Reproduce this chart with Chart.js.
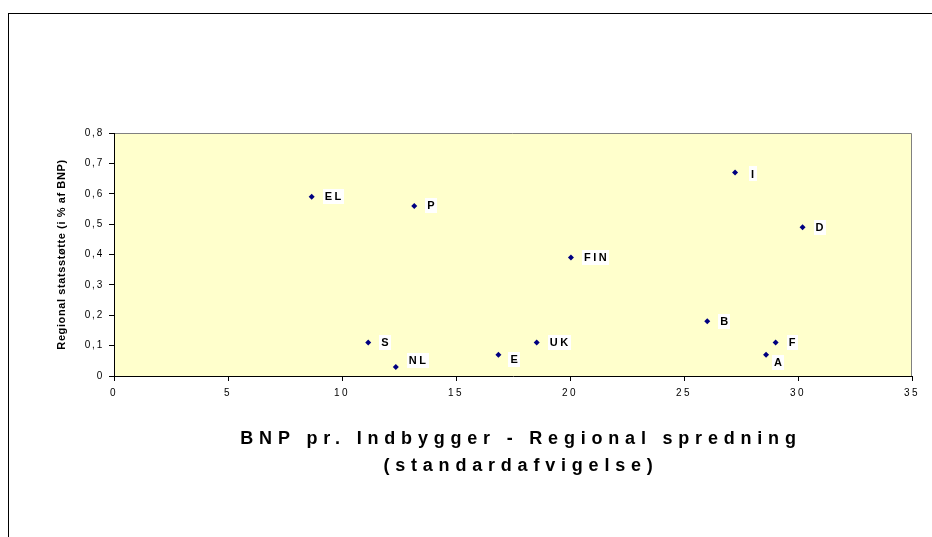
<!DOCTYPE html>
<html><head><meta charset="utf-8">
<script src="https://cdn.jsdelivr.net/npm/chart.js@4/dist/chart.umd.min.js"></script>
<style>
html,body{margin:0;padding:0;background:#fff;}
#wrap{position:relative;width:932px;height:537px;overflow:hidden;}
#frame{position:absolute;left:8px;top:13px;width:960px;height:560px;border-top:1px solid #000;border-left:1px solid #000;}
canvas{position:absolute;left:0;top:0;}
</style></head><body>
<div id="wrap"><div id="frame"></div><canvas id="c" width="932" height="537"></canvas></div>
<script>
const countries = ['EL','P','FIN','S','NL','E','UK','I','D','B','F','A'];
const gdpSpread = [8.67,13.17,20.04,11.15,12.36,16.86,18.54,27.24,30.2,26.02,29.02,28.6];
const regionalAid = [0.59,0.56,0.39,0.11,0.03,0.07,0.11,0.67,0.49,0.18,0.11,0.07];
const xTickLabels = ['0','5','10','15','20','25','30','35'];
const yTickLabels = ['0','0,1','0,2','0,3','0,4','0,5','0,6','0,7','0,8'];
const xTitle = ['BNP pr. Indbygger - Regional spredning','(standardafvigelse)'];
const yTitle = 'Regional statsstøtte (i % af BNP)';

const FONT = '"Liberation Sans", Arial, sans-serif';
const points = countries.map((c,i)=>({x:gdpSpread[i], y:regionalAid[i]}));

const spacing = {x:{ticks:'2.5px', title:'5.8px', shift:8}, y:{ticks:'1.8px', title:'0.6px', shift:0}};
const labelShift = {NL:[11,-6], E:[10,5], A:[6,8], I:[14,1.5]};

const decor = {
  id:'decor',
  beforeDraw(chart){
    const {ctx, chartArea:a} = chart;
    ctx.save();
    ctx.fillStyle = '#FFFFCC';
    ctx.fillRect(a.left, a.top, a.right-a.left, a.bottom-a.top);
    ctx.strokeStyle = '#808080';
    ctx.lineWidth = 1;
    ctx.beginPath();
    ctx.moveTo(a.left, a.top+0.5);
    ctx.lineTo(a.right-0.5, a.top+0.5);
    ctx.lineTo(a.right-0.5, a.bottom);
    ctx.stroke();
    ctx.restore();
    for (const id of ['x','y']) {
      const s = chart.scales[id];
      if (!s || s.__wrapped) continue;
      s.__wrapped = true;
      const dl = s.drawLabels.bind(s), dt = s.drawTitle.bind(s);
      s.drawLabels = function(area){ ctx.save(); ctx.letterSpacing = spacing[id].ticks; dl(area); ctx.restore(); };
      s.drawTitle = function(){ ctx.save(); ctx.translate(spacing[id].shift,0); ctx.letterSpacing = spacing[id].title; dt(); ctx.restore(); };
    }
  },
  afterDatasetsDraw(chart){
    const ctx = chart.ctx;
    const meta = chart.getDatasetMeta(0);
    ctx.save();
    ctx.font = 'bold 11px ' + FONT;
    ctx.letterSpacing = '2.5px';
    ctx.textBaseline = 'middle';
    ctx.textAlign = 'left';
    meta.data.forEach((pt,i)=>{
      const name = countries[i];
      const [dx,dy] = labelShift[name] || [11,0];
      const w = ctx.measureText(name).width;
      const bx = pt.x + dx, cy = pt.y + dy;
      ctx.fillStyle = '#fff';
      ctx.fillRect(Math.round(bx), Math.round(cy-7.5), Math.round(w+2), 15);
      ctx.fillStyle = '#000';
      ctx.fillText(name, bx+2, cy+0.5);
    });
    ctx.restore();
  }
};

new Chart(document.getElementById('c'), {
  type:'scatter',
  data:{datasets:[{
    label:'Lande',
    data:points,
    pointStyle:'rectRot',
    pointRadius:3,
    pointHoverRadius:3,
    backgroundColor:'#000080',
    borderColor:'#000080',
    borderWidth:0
  }]},
  options:{
    responsive:false,
    animation:false,
    devicePixelRatio:1,
    events:[],
    layout:{padding:{left:0, top:133, right:20, bottom:57}},
    plugins:{legend:{display:false}, tooltip:{enabled:false}},
    scales:{
      x:{
        type:'linear', min:0, max:35,
        afterFit(s){ s.height = 104; },
        afterBuildTicks(s){ s.ticks = xTickLabels.map((t,i)=>({value:i*5})); },
        ticks:{stepSize:5, color:'#000', padding:6, maxRotation:0, autoSkip:false,
          font:{family:FONT, size:10},
          callback:(v,i)=>xTickLabels[i]},
        grid:{display:true, drawOnChartArea:false, drawTicks:true, tickLength:5, color:'#000', lineWidth:1},
        border:{display:true, color:'#000', width:1},
        title:{display:true, text:xTitle, color:'#000', padding:{top:0,bottom:0},
          font:{family:FONT, size:18, weight:'bold', lineHeight:27/18}}
      },
      y:{
        type:'linear', min:0, max:0.8,
        afterFit(s){ s.width = 114; },
        afterBuildTicks(s){ s.ticks = yTickLabels.map((t,i)=>({value:i/10})); },
        ticks:{stepSize:0.1, color:'#000', padding:5, autoSkip:false,
          font:{family:FONT, size:10},
          callback:(v,i)=>yTickLabels[i]},
        grid:{display:true, drawOnChartArea:false, drawTicks:true, tickLength:5, color:'#000', lineWidth:1},
        border:{display:true, color:'#000', width:1},
        title:{display:true, text:yTitle, color:'#000', padding:{top:55,bottom:0},
          font:{family:FONT, size:11, weight:'bold', lineHeight:1.2}}
      }
    }
  },
  plugins:[decor]
});
</script>
</body></html>
